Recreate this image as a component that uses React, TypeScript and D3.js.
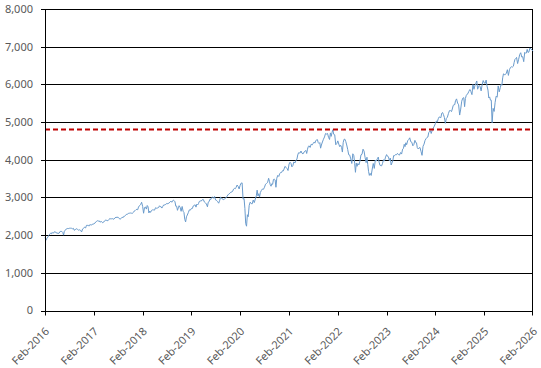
import React, { useEffect, useRef } from "react";
import * as d3 from "d3";

// Weekly-ish closes, grouped by month (each inner array = one month)
const s2016: number[][] = [
  [1940, 1865, 1918, 1948],
  [1999, 2022, 2049, 2035, 2072],
  [2047, 2080, 2091, 2065],
  [2057, 2046, 2052, 2099],
  [2099, 2096, 2071, 2000, 2103],
  [2129, 2161, 2175, 2173],
  [2182, 2184, 2183, 2169],
  [2179, 2128, 2139, 2164, 2168],
  [2153, 2132, 2141, 2126],
  [2085, 2164, 2181, 2213],
  [2191, 2259, 2258, 2263, 2238],
];
const s2017: number[][] = [
  [2276, 2274, 2271, 2295],
  [2297, 2316, 2351, 2367],
  [2383, 2372, 2378, 2343, 2362],
  [2355, 2328, 2348, 2384],
  [2399, 2390, 2381, 2416],
  [2439, 2432, 2433, 2438, 2423],
  [2425, 2459, 2472, 2472],
  [2476, 2441, 2425, 2443],
  [2477, 2461, 2500, 2502, 2519],
  [2549, 2553, 2575, 2581],
  [2587, 2582, 2579, 2602],
  [2642, 2652, 2675, 2683, 2673],
];
const s2018: number[][] = [
  [2743, 2786, 2810, 2872],
  [2762, 2581, 2732, 2747],
  [2691, 2786, 2752, 2588, 2640],
  [2604, 2656, 2670, 2669],
  [2663, 2728, 2712, 2721],
  [2734, 2779, 2754, 2755, 2718],
  [2759, 2801, 2802, 2818],
  [2840, 2833, 2850, 2874],
  [2902, 2872, 2905, 2930, 2914],
  [2885, 2767, 2768, 2658, 2723],
  [2781, 2736, 2632, 2760],
  [2633, 2600, 2416, 2351, 2485],
];
const s2019: number[][] = [
  [2532, 2596, 2670, 2664],
  [2707, 2707, 2775, 2792],
  [2803, 2743, 2822, 2800, 2834],
  [2893, 2907, 2905, 2940],
  [2945, 2881, 2859, 2826],
  [2752, 2873, 2886, 2950, 2942],
  [2990, 3013, 2977, 3025],
  [2932, 2918, 2888, 2847],
  [2926, 3007, 2992, 2961, 2952],
  [2938, 2970, 2986, 3022],
  [3066, 3093, 3110, 3140],
  [3145, 3169, 3221, 3240, 3230],
];
const s2020: number[][] = [
  [3265, 3329, 3295, 3225],
  [3327, 3380, 3386, 2954],
  [2972, 2711, 2304, 2237, 2541],
  [2489, 2790, 2875, 2837],
  [2830, 2930, 2863, 2955],
  [3044, 3193, 3041, 3098, 3009],
  [3130, 3185, 3224, 3216],
  [3271, 3351, 3372, 3397],
  [3508, 3427, 3340, 3298, 3363],
  [3348, 3477, 3484, 3465, 3270],
  [3509, 3585, 3557, 3638],
  [3662, 3663, 3709, 3703, 3756],
];
const s2021: number[][] = [
  [3824, 3801, 3768, 3714],
  [3886, 3934, 3907, 3811],
  [3842, 3943, 3913, 3974],
  [4019, 4128, 4185, 4180, 4181],
  [4232, 4173, 4155, 4204],
  [4229, 4247, 4166, 4280, 4352],
  [4369, 4327, 4411, 4395],
  [4436, 4468, 4441, 4509, 4523],
  [4535, 4458, 4433, 4455, 4307],
  [4391, 4471, 4544, 4605],
  [4697, 4682, 4697, 4595],
  [4538, 4712, 4620, 4725, 4796],
];
const s2022: number[][] = [
  [4677, 4662, 4398, 4431],
  [4500, 4418, 4349, 4385],
  [4328, 4204, 4463, 4543, 4545],
  [4488, 4392, 4271, 4132],
  [4123, 4023, 3901, 4158],
  [4108, 3901, 3667, 3911, 3825],
  [3899, 3863, 3962, 4130],
  [4145, 4280, 4228, 4057],
  [3924, 4067, 3873, 3693, 3585],
  [3639, 3583, 3752, 3901],
  [3770, 3993, 3965, 4026],
  [4071, 3934, 3852, 3844, 3839],
];
const s2023: number[][] = [
  [3895, 3999, 3972, 4070],
  [4136, 4090, 4079, 3970],
  [4045, 3861, 3917, 3971, 4109],
  [4105, 4137, 4133, 4169],
  [4136, 4124, 4191, 4151],
  [4282, 4298, 4410, 4348, 4450],
  [4399, 4505, 4536, 4582],
  [4478, 4464, 4370, 4406],
  [4515, 4457, 4450, 4320, 4288],
  [4308, 4327, 4224, 4117],
  [4358, 4415, 4514, 4559],
  [4594, 4604, 4719, 4754, 4770],
];
const s2024: number[][] = [
  [4697, 4784, 4840, 4891],
  [4958, 5026, 5005, 5088],
  [5137, 5124, 5117, 5234, 5254],
  [5204, 5123, 4967, 5100],
  [5128, 5223, 5303, 5305],
  [5277, 5347, 5431, 5464, 5460],
  [5567, 5615, 5505, 5459],
  [5186, 5344, 5554, 5634],
  [5648, 5408, 5626, 5702, 5738],
  [5751, 5815, 5864, 5808],
  [5728, 5995, 5870, 5969],
  [6032, 6090, 5872, 5930, 5970],
];
const s2025: number[][] = [
  [5942, 5827, 5996, 6101],
  [6040, 6026, 6114, 5955],
  [5849, 5639, 5667, 5581, 5580],
  [4982, 5363, 5282, 5525],
  [5686, 5659, 5958, 5802],
  [5912, 6000, 5977, 6173, 6279],
  [6260, 6259, 6297, 6389],
  [6238, 6389, 6449, 6467],
  [6460, 6481, 6584, 6664, 6688],
  [6715, 6552, 6664, 6791],
  [6840, 6728, 6734, 6603],
  [6849, 6827, 6834, 6930, 6846],
];
const s2026: number[][] = [
  [6858, 6966, 6940, 6915],
  [6880],
];

const years = [s2016, s2017, s2018, s2019, s2020, s2021, s2022, s2023, s2024, s2025, s2026];
const firstMonth = new Date(2016, 1, 1);

const yTicks = [0, 1000, 2000, 3000, 4000, 5000, 6000, 7000, 8000];
const tickYears = [2016, 2017, 2018, 2019, 2020, 2021, 2022, 2023, 2024, 2025, 2026];
const refLevel = 4800;

const W = 541;
const H = 368;

export default function App() {
  const ref = useRef<SVGSVGElement>(null);

  useEffect(() => {
    document.body.style.margin = "0";
    const svg = d3.select(ref.current);
    svg.selectAll("*").remove();

    const points: { d: Date; v: number }[] = [];
    let m = 0;
    years.forEach((yr) => {
      yr.forEach((month) => {
        const start = d3.timeMonth.offset(firstMonth, m);
        const end = d3.timeMonth.offset(firstMonth, m + 1);
        month.forEach((v, i) => {
          const t = start.getTime() + (i / month.length) * (end.getTime() - start.getTime());
          points.push({ d: new Date(t), v });
        });
        m++;
      });
    });

    const x = d3
      .scaleTime()
      .domain([new Date(2016, 1, 1), new Date(2026, 1, 1)])
      .range([45, 533]);
    const y = d3.scaleLinear().domain([0, 8000]).range([310.5, 9]);
    const cy = (v: number) => Math.round(y(v)) + 0.5;
    const cx = (d: Date) => Math.round(x(d)) + 0.5;

    const font = "'Noto Sans', 'DejaVu Sans', sans-serif";

    // gridlines
    svg
      .append("g")
      .selectAll("line")
      .data(yTicks.filter((t) => t > 0))
      .join("line")
      .attr("x1", 45)
      .attr("x2", 533)
      .attr("y1", (d) => cy(d))
      .attr("y2", (d) => cy(d))
      .attr("stroke", "#000")
      .attr("stroke-width", 1);

    // right border
    svg
      .append("line")
      .attr("x1", cx(x.domain()[1]) - 1)
      .attr("x2", cx(x.domain()[1]) - 1)
      .attr("y1", cy(8000))
      .attr("y2", cy(0))
      .attr("stroke", "#000");

    // series line
    const line = d3
      .line<{ d: Date; v: number }>()
      .x((p) => x(p.d))
      .y((p) => y(p.v));
    svg
      .append("path")
      .datum(points)
      .attr("d", line)
      .attr("fill", "none")
      .attr("stroke", "#6a9bcc")
      .attr("stroke-width", 1)
      .attr("stroke-linejoin", "round");

    // reference dashed line
    svg
      .append("line")
      .attr("x1", 45)
      .attr("x2", 533)
      .attr("y1", y(refLevel))
      .attr("y2", y(refLevel))
      .attr("stroke", "#c00000")
      .attr("stroke-width", 2)
      .attr("stroke-dasharray", "5,3");

    // axes lines
    svg
      .append("line")
      .attr("x1", 45.5)
      .attr("x2", 45.5)
      .attr("y1", cy(8000))
      .attr("y2", cy(0))
      .attr("stroke", "#000");
    svg
      .append("line")
      .attr("x1", 45)
      .attr("x2", 533)
      .attr("y1", cy(0))
      .attr("y2", cy(0))
      .attr("stroke", "#000");

    // y ticks & labels
    const yg = svg.append("g");
    yTicks.forEach((t) => {
      yg.append("line")
        .attr("x1", 41)
        .attr("x2", 45)
        .attr("y1", cy(t))
        .attr("y2", cy(t))
        .attr("stroke", "#000");
      yg.append("text")
        .attr("x", 33)
        .attr("y", y(t))
        .attr("dy", "0.35em")
        .attr("text-anchor", "end")
        .attr("font-family", font)
        .attr("font-size", 11)
        .attr("fill", "#595959")
        .text(d3.format(",")(t));
    });

    // x ticks & labels
    const xg = svg.append("g");
    const fmt = d3.timeFormat("%b-%Y");
    tickYears.forEach((yr) => {
      const d = new Date(yr, 1, 1);
      const px = Math.min(cx(d), 532.5);
      xg.append("line")
        .attr("x1", px)
        .attr("x2", px)
        .attr("y1", cy(0))
        .attr("y2", cy(0) + 4)
        .attr("stroke", "#000");
      const tx = x(d) + 5;
      const ty = 332;
      xg.append("text")
        .attr("x", tx)
        .attr("y", ty)
        .attr("text-anchor", "end")
        .attr("transform", `rotate(-45, ${tx}, ${ty})`)
        .attr("font-family", font)
        .attr("font-size", 11)
        .attr("fill", "#595959")
        .text(fmt(d));
    });
  }, []);

  return (
    <svg
      ref={ref}
      width={W}
      height={H}
      style={{ position: "absolute", left: 0, top: 0, background: "#fff" }}
    />
  );
}
